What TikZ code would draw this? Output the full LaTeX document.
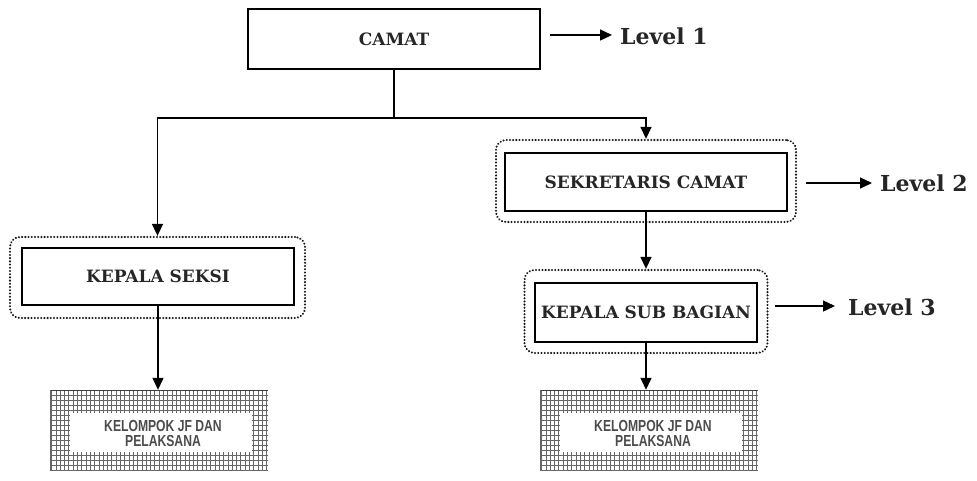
\documentclass[tikz,border=0pt]{standalone}
\usepackage{fontspec}
\usetikzlibrary{arrows.meta}
\newfontfamily\boxfont{DejaVu Serif}
\newfontfamily\kelfont{Liberation Sans}[FakeStretch=0.76]
\begin{document}
\begin{tikzpicture}[x=1pt,y=-1pt,
  box/.style={draw, line width=1.8pt, inner sep=0pt, font=\boxfont\bfseries\fontsize{17}{19}\selectfont, text=black!85},
  wrap/.style={draw, line width=2.3pt, dash pattern=on 0.01pt off 3.2pt, line cap=round, rounded corners=10pt, inner sep=0pt, black!90},
  arr/.style={line width=1.4pt, -{Triangle[length=12pt,width=11pt]}},
  lvl/.style={anchor=west, inner sep=0pt, font=\boxfont\bfseries\fontsize{22}{24}\selectfont, text=black!85},
  kel/.style={inner sep=0pt, align=center, font=\kelfont\bfseries\fontsize{16}{15}\selectfont, text=black!70}
]
\useasboundingbox (0,0) rectangle (977,480);

% main boxes
\node[box, minimum width=292pt, minimum height=60pt] (camat) at (394,39) {CAMAT};
\node[wrap, minimum width=295pt, minimum height=81pt] (ksout) at (157.5,277.5) {};
\node[box, minimum width=272pt, minimum height=57pt] (ks) at (158,276.5) {KEPALA SEKSI};
\node[wrap, minimum width=300pt, minimum height=82pt] (sekout) at (646,181) {};
\node[box, minimum width=282pt, minimum height=58pt] (sek) at (646,182) {SEKRETARIS CAMAT};
\node[wrap, minimum width=243pt, minimum height=83pt] (subout) at (646,311.5) {};
\node[box, minimum width=222pt, minimum height=59pt] (sub) at (646,312.5) {KEPALA SUB BAGIAN};

% KELOMPOK boxes (grid)
\foreach \cx in {159, 649}{
  \begin{scope}[shift={(\cx,430)}]
    \draw[black!60, line width=0.6pt, xstep=4.3pt, ystep=5pt] (-109,-40) grid (109,40);
    \draw[black!75, line width=1pt] (-109,-40) -- (109,-40);
    \draw[black!60, line width=0.8pt] (-109,-40) -- (-109,40);
    \fill[white] (-89,-17) rectangle (93,22);
  \end{scope}
}
\node[minimum width=218pt, minimum height=80pt, inner sep=0pt] (kelA) at (159,430) {};
\node[minimum width=218pt, minimum height=80pt, inner sep=0pt] (kelB) at (649,430) {};
\node[kel] (kelAt) at (163,433) {KELOMPOK JF DAN\\PELAKSANA};
\node[kel] (kelBt) at (653,433) {KELOMPOK JF DAN\\PELAKSANA};

% level labels
\node[lvl] (lvl1) at (620,36) {Level 1};
\node[lvl] (lvl2) at (880,183) {Level 2};
\node[lvl] (lvl3) at (848,307) {Level 3};
\coordinate (a1) at (550,35);
\coordinate (a2) at (806,183);
\coordinate (a3) at (775,306);
\draw[arr] (a1) -- ([xshift=-8pt]lvl1.west |- a1);
\draw[arr] (a2) -- ([xshift=-8pt]lvl2.west |- a2);
\draw[arr] (a3) -- ([xshift=-13pt]lvl3.west |- a3);

% connectors
\coordinate (j) at (394,118);
\draw[line width=1.4pt] (camat.south) -- (j);
\draw[arr] (j) -| (ksout.north);
\draw[arr] (j) -| (sekout.north);
\draw[arr] (sek.south) -- (subout.north);
\draw[arr] (ks.south) -- (ks.south |- kelA.north);
\draw[arr] (sub.south) -- (sub.south |- kelB.north);
\end{tikzpicture}
\end{document}
